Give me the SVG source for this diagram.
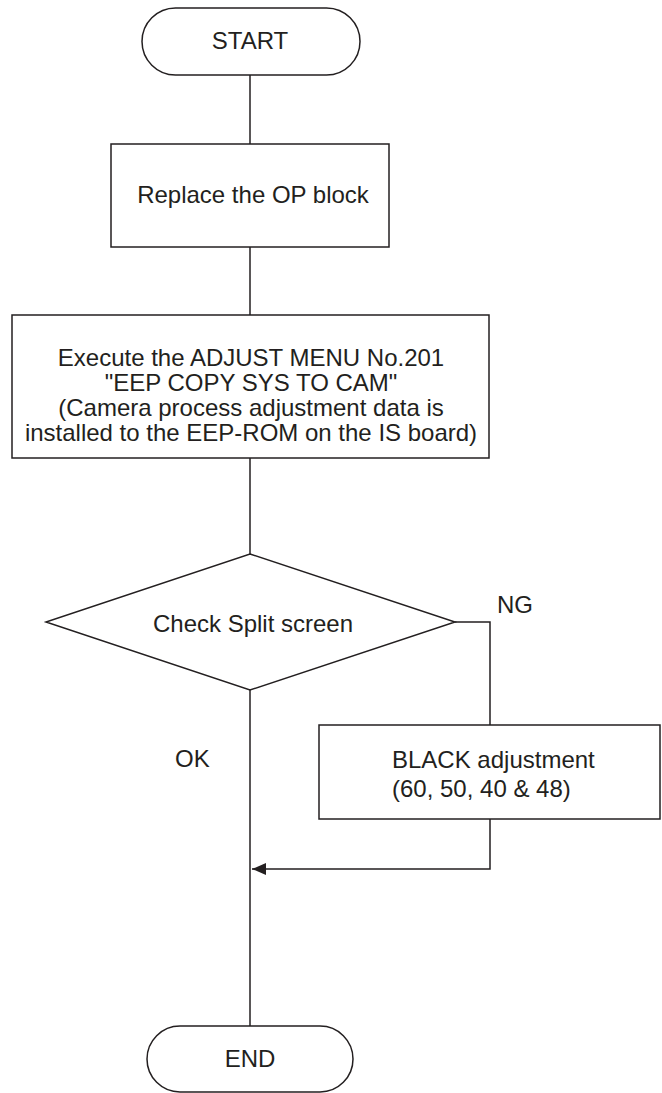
<svg xmlns="http://www.w3.org/2000/svg" width="662" height="1093" viewBox="0 0 662 1093">
<defs>
<style>
.s{fill:#fff;stroke:#231f20;stroke-width:1.5}
.c{fill:none;stroke:#231f20;stroke-width:1.5}
.t{font-family:"Liberation Sans",Arial,sans-serif;font-size:24px;fill:#231f20}
.m{text-anchor:middle}
</style>
<marker id="ah" viewBox="0 0 14 12" refX="14" refY="6" markerWidth="14" markerHeight="12" markerUnits="userSpaceOnUse" orient="auto">
<path d="M0,0 L14,6 L0,12 Z" fill="#231f20"/>
</marker>
</defs>
<rect width="662" height="1093" fill="#fff"/>
<g id="connectors">
<line class="c" x1="250" y1="75" x2="250" y2="144"/>
<line class="c" x1="250" y1="247" x2="250" y2="315"/>
<line class="c" x1="250" y1="458" x2="250" y2="554"/>
<line class="c" x1="250" y1="690" x2="250" y2="1026"/>
<polyline class="c" points="455,622 490,622 490,725"/>
<polyline class="c" points="490,819 490,869 252,869" marker-end="url(#ah)"/>
<text class="t" x="497" y="613">NG</text>
<text class="t" x="175" y="767">OK</text>
</g>
<g id="start">
<rect class="s" x="142" y="8" width="218" height="67" rx="33.5"/>
<text class="t m" x="250" y="49">START</text>
</g>
<g id="replace">
<rect class="s" x="111" y="144" width="278" height="103"/>
<text class="t m" x="253" y="203">Replace the OP block</text>
</g>
<g id="execute">
<rect class="s" x="12" y="315" width="477" height="143"/>
<text class="t m" x="251" y="366">Execute the ADJUST MENU No.201</text>
<text class="t m" x="251" y="391">"EEP COPY SYS TO CAM"</text>
<text class="t m" x="251" y="416">(Camera process adjustment data is</text>
<text class="t m" x="251" y="441">installed to the EEP-ROM on the IS board)</text>
</g>
<g id="check">
<polygon class="s" points="250,554 455,622 250,690 46,622"/>
<text class="t m" x="253" y="632">Check Split screen</text>
</g>
<g id="black">
<rect class="s" x="319" y="725" width="341" height="94"/>
<text class="t" x="392" y="768">BLACK adjustment</text>
<text class="t" x="392" y="797">(60, 50, 40 &amp; 48)</text>
</g>
<g id="end">
<rect class="s" x="147" y="1026" width="206" height="66" rx="33"/>
<text class="t m" x="250" y="1067">END</text>
</g>
</svg>
